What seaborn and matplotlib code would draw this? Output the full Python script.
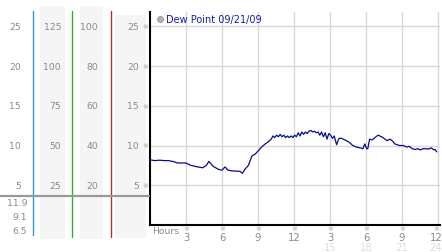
import matplotlib
matplotlib.use("Agg")
import matplotlib.pyplot as plt
from matplotlib.lines import Line2D
from matplotlib.patches import Rectangle
import seaborn as sns
import pandas as pd

# ---------------- data ----------------
hours = [0.0, 0.4, 0.8, 1.2, 1.5, 1.9, 2.3, 3.0, 3.4, 4.0, 4.4, 4.7, 4.9, 5.25, 5.7,
         6.0, 6.25, 6.5, 6.9, 7.5, 7.7, 7.9, 8.2, 8.5, 8.75, 9.0, 9.3, 9.6, 9.8, 10.1,
         10.25, 10.4, 10.55, 10.7, 10.85, 11.0, 11.15, 11.3, 11.45, 11.6, 11.75, 11.9,
         12.05, 12.2, 12.35, 12.5, 12.65, 12.8, 12.95, 13.1, 13.25, 13.4, 13.55, 13.7,
         13.85, 14.0, 14.15, 14.3, 14.45, 14.6, 14.75, 14.9, 15.05, 15.2, 15.35, 15.55,
         15.75, 15.95, 16.25, 16.6, 16.9, 17.2, 17.5, 17.75, 17.9, 18.05, 18.15, 18.3,
         18.5, 18.75, 19.0, 19.3, 19.5, 19.75, 20.0, 20.25, 20.4, 20.8, 21.1, 21.4, 21.6,
         21.85, 22.1, 22.3, 22.55, 22.75, 23.0, 23.2, 23.45, 23.65, 23.75, 23.9]
dew_point = [8.2, 8.1, 8.15, 8.1, 8.1, 8.0, 7.8, 7.8, 7.5, 7.3, 7.2, 7.5, 8.0, 7.4, 7.0,
             6.9, 7.3, 6.9, 6.8, 6.75, 6.5, 7.0, 7.5, 8.7, 8.9, 9.3, 9.8, 10.2, 10.4, 10.8,
             11.2, 11.0, 11.3, 11.1, 11.4, 11.1, 11.3, 11.0, 11.2, 11.0, 11.2, 11.0,
             11.3, 11.1, 11.6, 11.2, 11.7, 11.4, 11.7, 11.5, 11.8, 11.9, 11.7, 11.8,
             11.6, 11.7, 11.3, 11.7, 11.1, 11.6, 10.8, 11.5, 11.3, 10.9, 11.2, 10.1,
             10.9, 10.9, 10.7, 10.4, 10.0, 9.8, 9.7, 9.6, 10.2, 9.6, 9.6, 10.8,
             10.7, 11.0, 11.3, 11.1, 10.9, 10.6, 10.8, 10.5, 10.2, 10.0, 10.0, 9.8, 9.9,
             9.6, 9.5, 9.6, 9.45, 9.6, 9.6, 9.55, 9.7, 9.45, 9.5, 9.2]

series_label = "Dew Point 09/21/09"
y_ticks = [25, 20, 15, 10, 5]          # main scale (and column 1 / column 4)
col2_ticks = [125, 100, 75, 50, 25]
col3_ticks = [100, 80, 60, 40, 20]
x_tick_pos = [3, 6, 9, 12, 15, 18, 21, 24]
x_tick_labels = ["3", "6", "9", "12", "3", "6", "9", "12"]
x_sub_pos = [15, 18, 21, 24]
x_sub_labels = ["15", "18", "21", "24"]
stats = ["11.9", "9.1", "6.5"]   # max / avg / min

# ---------------- figure ----------------
sns.set_theme(style="white")
plt.rcParams['font.family'] = ['DejaVu Sans']
W, H = 442, 253
fig = plt.figure(figsize=(W / 100, H / 100), dpi=100)
fig.patch.set_facecolor("white")

def fx(px):
    return px / W

def fy(py):
    return 1 - py / H

# main axes: x 150..440 px, y 13..226 px
ax_l, ax_r, ax_t, ax_b = 150, 440, 13, 226
ax = fig.add_axes([fx(ax_l), fy(ax_b), (ax_r - ax_l) / W, (ax_b - ax_t) / H])
ax.set_facecolor("none")

# background bands of the left panel
bands = [(40, 65, 7, 240), (80, 103, 7, 240), (115, 146, 16, 239)]
for x0, x1, y0, y1 in bands:
    fig.patches.append(Rectangle((fx(x0), fy(y1)), (x1 - x0) / W, (y1 - y0) / H,
                                 transform=fig.transFigure, facecolor="#f5f5f5",
                                 edgecolor="none", zorder=0))

df = pd.DataFrame({"hour": hours, "dew": dew_point})
sns.lineplot(data=df, x="hour", y="dew", ax=ax, color="#0b0b8a", linewidth=0.9,
             zorder=3)

xmax = 24 * (ax_r - ax_l) / 288.0
ax.set_xlim(0, xmax)
ax.set_ylim(0, (ax_b - ax_t) / 7.95)
ax.set_xticks(x_tick_pos)
ax.set_yticks(y_ticks)
ax.set_xticklabels([])
ax.set_yticklabels([])
ax.tick_params(length=0)
ax.grid(True, color="#d8d8d8", linewidth=1.0)
ax.set_xlabel("")
ax.set_ylabel("")
for s in ["top", "right"]:
    ax.spines[s].set_visible(False)
for s in ["left", "bottom"]:
    ax.spines[s].set_color("black")
    ax.spines[s].set_linewidth(1.5)

fig.canvas.draw()
trans = ax.transData

def ypix(v):
    return H - trans.transform((0, v))[1]

def xpix(h):
    return trans.transform((h, 0))[0]

gray = "#8a8a8a"
fs = 6.7
mark = "\u203b"

# y tick labels & columns
for i, v in enumerate(y_ticks):
    yy = ypix(v)
    fig.text(fx(21), fy(yy), str(v), ha="right", va="center", fontsize=fs, color=gray)
    fig.text(fx(61), fy(yy), str(col2_ticks[i]), ha="right", va="center", fontsize=fs, color=gray)
    fig.text(fx(98), fy(yy), str(col3_ticks[i]), ha="right", va="center", fontsize=fs, color=gray)
    fig.text(fx(139), fy(yy), str(v), ha="right", va="center", fontsize=fs, color=gray)
    fig.text(fx(145), fy(yy), mark, ha="center", va="center", fontsize=5, color="#aaaaaa")

# stats (max / avg / min)
for s, yy in zip(stats, [203, 218, 232]):
    fig.text(fx(27), fy(yy), s, ha="right", va="center", fontsize=fs, color=gray)

# colored vertical lines
for xp, col, y0, y1 in [(33, "#3399cc", 12, 236), (72, "#33aa33", 12, 238),
                        (111, "#aa3333", 12, 238)]:
    fig.lines.append(Line2D([fx(xp), fx(xp)], [fy(y0), fy(y1)], transform=fig.transFigure,
                            color=col, linewidth=1.0, zorder=2))
# gray horizontal line
fig.lines.append(Line2D([fx(0), fx(149)], [fy(197), fy(197)], transform=fig.transFigure,
                        color="#999999", linewidth=1.6, zorder=3))

# x tick labels
for h, lab in zip(x_tick_pos, x_tick_labels):
    xp = min(xpix(h), 436)
    fig.text(fx(xp), fy(229.5), mark, ha="center", va="center", fontsize=5, color="#aaaaaa")
    fig.text(fx(xp), fy(238), lab, ha="center", va="center", fontsize=fs + 0.5, color=gray)
for h, lab in zip(x_sub_pos, x_sub_labels):
    xp = min(xpix(h), 436)
    fig.text(fx(xp), fy(248), lab, ha="center", va="center", fontsize=fs + 0.5,
             color="#dddddd")
fig.text(fx(152), fy(232), "Hours", ha="left", va="center", fontsize=fs, color=gray)

# legend
fig.lines.append(Line2D([fx(160)], [fy(20)], transform=fig.transFigure, marker="o",
                        markersize=4.2, markerfacecolor="#b5b5b5",
                        markeredgecolor="#888888", markeredgewidth=0.6, linestyle="none"))
fig.text(fx(165.5), fy(20.5), series_label, ha="left", va="center", fontsize=7.0,
         color="#1a1aa6")

fig.savefig("out.png", dpi=100)
